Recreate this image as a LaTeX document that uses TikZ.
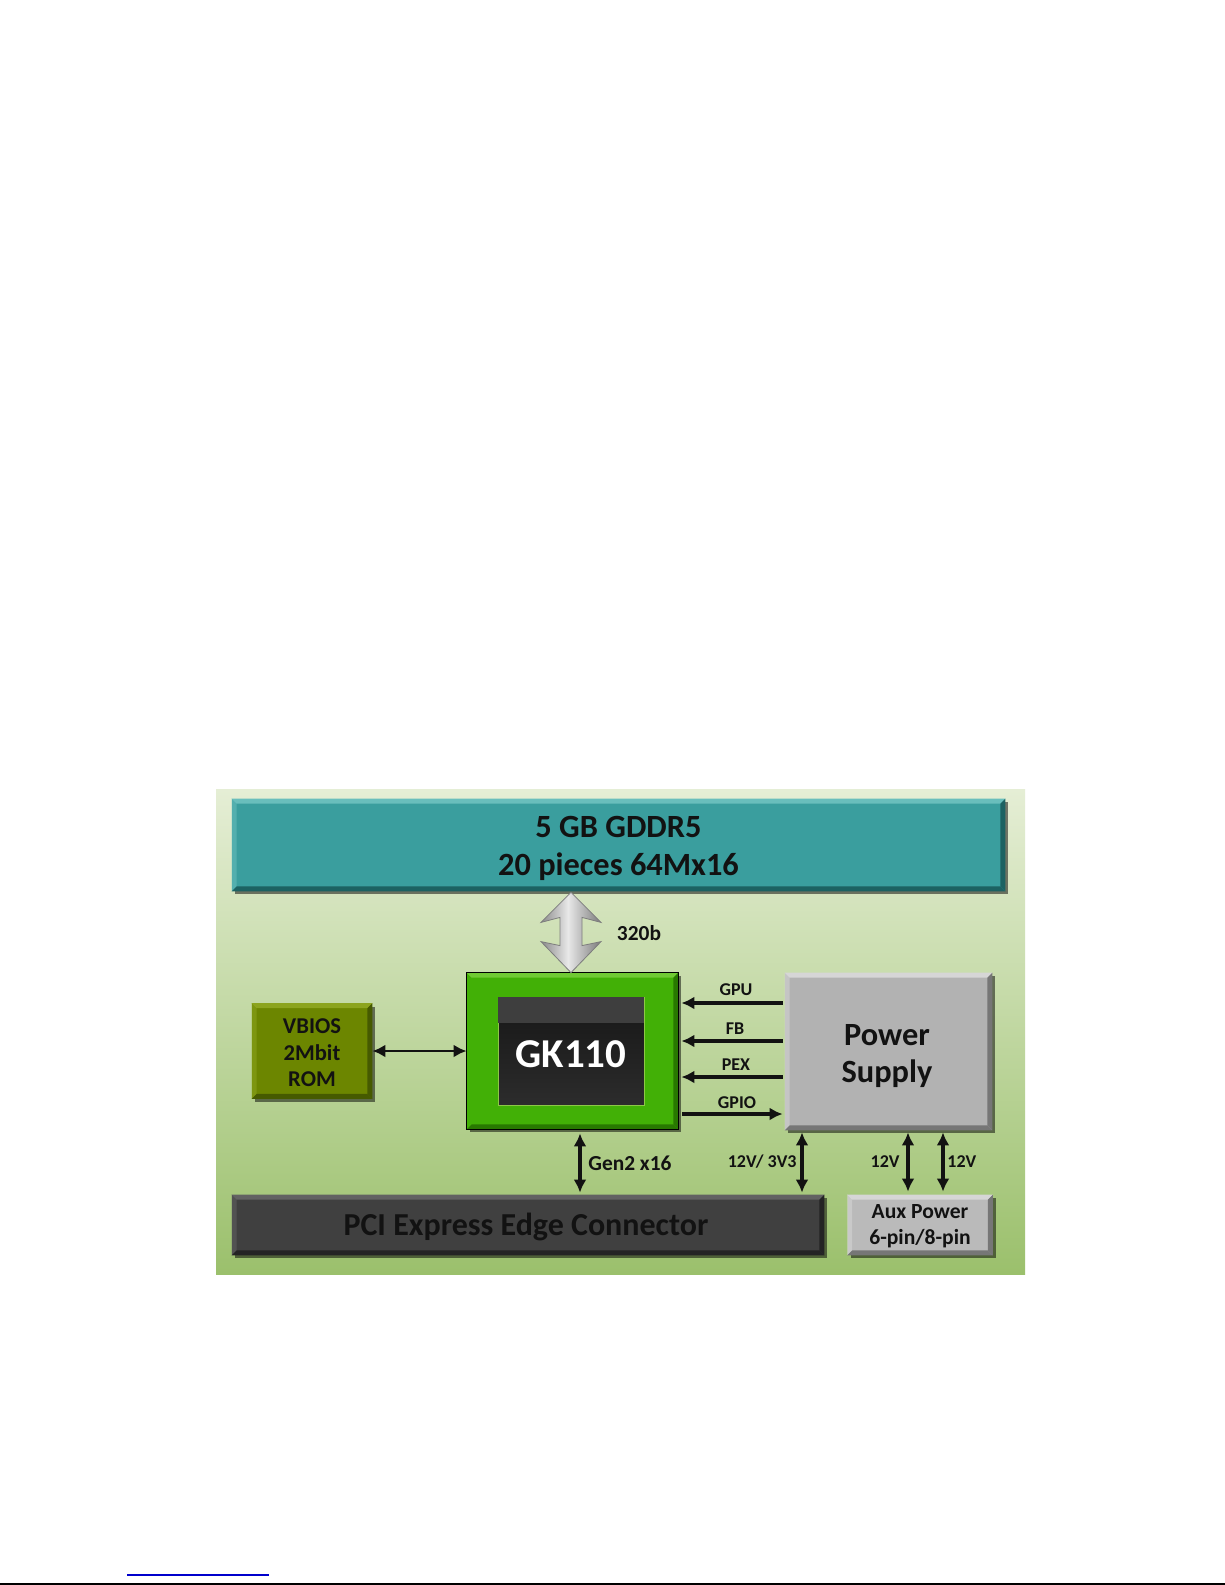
\documentclass[tikz,border=0pt]{standalone}
\usepackage{fontspec}
\setmainfont{Carlito}
\usetikzlibrary{calc,arrows.meta,shadows}
\definecolor{panelTop}{RGB}{229,238,213}
\definecolor{panelBot}{RGB}{155,192,108}
\definecolor{tealbox}{RGB}{58,158,158}
\definecolor{tealLight}{RGB}{105,190,188}
\definecolor{tealDark}{RGB}{28,98,98}
\definecolor{gkgreen}{RGB}{66,176,6}
\definecolor{gkLight}{RGB}{112,202,52}
\definecolor{gkDark}{RGB}{40,120,0}
\definecolor{coreTop}{RGB}{22,22,22}
\definecolor{coreBot}{RGB}{44,44,44}
\definecolor{coreBand}{RGB}{62,62,62}
\definecolor{coreEdge}{RGB}{140,200,70}
\definecolor{olive}{RGB}{108,134,0}
\definecolor{oliveLight}{RGB}{140,164,30}
\definecolor{oliveDark}{RGB}{70,90,0}
\definecolor{psgray}{RGB}{178,178,178}
\definecolor{psLight}{RGB}{214,214,214}
\definecolor{psDark}{RGB}{118,118,118}
\definecolor{pcigray}{RGB}{64,64,64}
\definecolor{pciLight}{RGB}{98,98,98}
\definecolor{pciDark}{RGB}{36,36,36}
\definecolor{auxgray}{RGB}{186,186,186}
\definecolor{inkblack}{RGB}{18,18,18}
\definecolor{linkblue}{RGB}{0,0,204}
\definecolor{silverEdge}{RGB}{125,125,125}
\definecolor{silverA}{RGB}{135,135,135}
\definecolor{silverB}{RGB}{232,232,232}
\definecolor{silverC}{RGB}{120,120,120}
\newcommand{\bevelnode}[3]{%
  \fill[#2] (#1.north west) -- (#1.north east) -- ([shift={(-5,5)}]#1.north east) -- ([shift={(5,5)}]#1.north west) -- cycle;
  \fill[#2,opacity=0.55] (#1.north west) -- ([shift={(5,5)}]#1.north west) -- ([shift={(5,-5)}]#1.south west) -- (#1.south west) -- cycle;
  \fill[#3] (#1.south west) -- (#1.south east) -- ([shift={(-5,-5)}]#1.south east) -- ([shift={(5,-5)}]#1.south west) -- cycle;
  \fill[#3] (#1.north east) -- (#1.south east) -- ([shift={(-5,-5)}]#1.south east) -- ([shift={(-5,5)}]#1.north east) -- cycle;
}
\begin{document}
\begin{tikzpicture}[x=0.5pt,y=-0.5pt,
  boxsz/.style 2 args={minimum width=#1*0.5pt, minimum height=#2*0.5pt, inner sep=0pt},
  blockbox/.style={rectangle, align=center, text=inkblack,
    drop shadow={shadow xshift=1.5pt, shadow yshift=-1.5pt, opacity=0.5, fill=black}},
  arr/.style={line width=1.6pt, draw=inkblack, {Latex[length=6.5pt,width=6.5pt]}-{Latex[length=6.5pt,width=6.5pt]}},
  arrl/.style={line width=1.6pt, draw=inkblack, -{Latex[length=6.5pt,width=6.5pt]}},
  lbl/.style={font=\bfseries\fontsize{9}{10}\selectfont, text=inkblack, inner sep=0pt},
  biglbl/.style={font=\bfseries\fontsize{10.7}{12}\selectfont, text=inkblack, inner sep=0pt},
  txt/.style={align=center, text=inkblack, inner sep=0pt}]
\useasboundingbox (0,0) rectangle (1225,1585);
\fill[white] (0,0) rectangle (1225,1585);

% background panel
\node[boxsz={809}{485}, top color=panelTop, bottom color=panelBot] (panel) at (620.5,1031.5) {};

% memory
\node[blockbox, boxsz={773}{92}, fill=tealbox] (gddr) at (618.5,845) {};
\bevelnode{gddr}{tealLight}{tealDark}
\node[txt, font=\bfseries\fontsize{16.2}{19}\selectfont] (gddrtxt) at (618.5,848) {5 GB GDDR5\\20 pieces 64Mx16};

% GPU
\node[blockbox, boxsz={211}{156}, fill=gkgreen] (gk) at (572.5,1051) {};
\fill[gkLight] (gk.north west) -- (gk.north east) -- ([shift={(-5,5)}]gk.north east) -- ([shift={(5,5)}]gk.north west) -- cycle;
\fill[gkDark] (gk.south west) -- (gk.south east) -- ([shift={(-5,-5)}]gk.south east) -- ([shift={(5,-5)}]gk.south west) -- cycle;
\fill[gkDark] (gk.north east) -- (gk.south east) -- ([shift={(-5,-5)}]gk.south east) -- ([shift={(-5,5)}]gk.north east) -- cycle;
\draw[black, line width=0.6pt] (gk.north west) rectangle (gk.south east);

\node[boxsz={146}{108}, top color=coreTop, bottom color=coreBot, draw=coreEdge, line width=0.5pt] (core) at (571,1051) {};
\fill[coreBand] ([shift={(0.6,0.6)}]core.north west) rectangle ([shift={(-0.6,26)}]core.north east);
\node[txt, text=white, font=\bfseries\fontsize{20.5}{22}\selectfont] (coretxt) at (571,1054) {GK110};

% ROM
\node[blockbox, boxsz={120}{95}, fill=olive] (vbios) at (312,1051) {};
\bevelnode{vbios}{oliveLight}{oliveDark}
\node[txt, font=\bfseries\fontsize{11.3}{13.2}\selectfont] (vbiostxt) at (312,1053) {VBIOS\\2Mbit\\ROM};

% power supply
\node[blockbox, boxsz={207}{157}, fill=psgray] (power) at (888.5,1051.5) {};
\bevelnode{power}{psLight}{psDark}
\node[txt, font=\bfseries\fontsize{16.2}{18.6}\selectfont] (powertxt) at (887,1056) {Power\\Supply};

% PCIe connector
\node[blockbox, boxsz={592}{60}, fill=pcigray] (pci) at (528,1225) {};
\bevelnode{pci}{pciLight}{pciDark}
\node[txt, font=\bfseries\fontsize{16}{19}\selectfont] (pcitxt) at (526,1227) {PCI Express Edge Connector};

% aux power
\node[blockbox, boxsz={145}{60}, fill=auxgray] (aux) at (920,1225) {};
\bevelnode{aux}{psLight}{psDark}
\node[txt, font=\bfseries\fontsize{10.8}{13}\selectfont] (auxtxt) at (920,1226) {Aux Power\\6-pin/8-pin};

% big 320b arrow between memory and GPU
\coordinate (xbig) at (571,0);
\coordinate (bt) at (gddr.south -| xbig);
\coordinate (bb) at (gk.north -| xbig);
\begin{scope}
\clip ($(bt)+(0,1)$) -- ($(bt)+(30,31)$) -- ($(bt)+(11,26)$) -- ($(bb)+(11,-27)$) -- ($(bb)+(30,-31)$) -- (bb)
  -- ($(bb)+(-30,-31)$) -- ($(bb)+(-11,-27)$) -- ($(bt)+(-11,26)$) -- ($(bt)+(-30,31)$) -- cycle;
\shade[left color=silverA, right color=silverB] ($(bt)+(-31,0)$) rectangle ($(bb)+(-3,0)$);
\shade[left color=silverB, right color=silverC] ($(bt)+(-3,0)$) rectangle ($(bb)+(31,0)$);
\end{scope}
\draw[silverEdge, line width=0.4pt]
  ($(bt)+(0,1)$) -- ($(bt)+(30,31)$) -- ($(bt)+(11,26)$) -- ($(bb)+(11,-27)$) -- ($(bb)+(30,-31)$) -- (bb)
  -- ($(bb)+(-30,-31)$) -- ($(bb)+(-11,-27)$) -- ($(bt)+(-11,26)$) -- ($(bt)+(-30,31)$) -- cycle;
\node[biglbl] (l320) at (639,933) {320b};

% ROM link
\draw[arr, line width=1.4pt] (vbios.east) -- (gk.west);

% power rails
\coordinate (yGPU) at (0,1003);
\coordinate (yFB) at (0,1041);
\coordinate (yPEX) at (0,1077);
\coordinate (yGPIO) at (0,1114);
\draw[arrl, shorten <=1pt, shorten >=1.5pt] (power.west |- yGPU) -- (gk.east |- yGPU);
\draw[arrl, shorten <=1pt, shorten >=1.5pt] (power.west |- yFB) -- (gk.east |- yFB);
\draw[arrl, shorten <=1pt, shorten >=1.5pt] (power.west |- yPEX) -- (gk.east |- yPEX);
\draw[arrl, shorten <=2pt, shorten >=1pt] (gk.east |- yGPIO) -- (power.west |- yGPIO);
\node[lbl] (lgpu) at (736,990) {GPU};
\node[lbl] (lfb) at (735,1029) {FB};
\node[lbl] (lpex) at (736,1065) {PEX};
\node[lbl] (lgpio) at (737,1103) {GPIO};

% vertical links
\coordinate (xgen) at (580,0);
\coordinate (xpex) at (802,0);
\coordinate (xauxa) at (908,0);
\coordinate (xauxb) at (943,0);
\draw[arr, shorten <=2pt, shorten >=1pt] (gk.south -| xgen) -- (pci.north -| xgen);
\draw[arr, shorten <=1pt, shorten >=1pt] (power.south -| xpex) -- (pci.north -| xpex);
\draw[arr, shorten <=1pt, shorten >=1.5pt] (power.south -| xauxa) -- (aux.north -| xauxa);
\draw[arr, shorten <=1pt, shorten >=1.5pt] (power.south -| xauxb) -- (aux.north -| xauxb);
\node[biglbl, anchor=west] (lgen) at (588,1163) {Gen2 x16};
\node[lbl, anchor=east] (l12a) at (797,1162) {12V/ 3V3};
\node[lbl, anchor=east] (l12b) at (900,1162) {12V};
\node[lbl, anchor=west] (l12c) at (947,1162) {12V};

% page rules at the bottom
\draw[linkblue, line width=0.65pt] (127,1575) -- (269,1575);
\draw[black, line width=1pt] (0,1584) -- (1225,1584);
\end{tikzpicture}
\end{document}
